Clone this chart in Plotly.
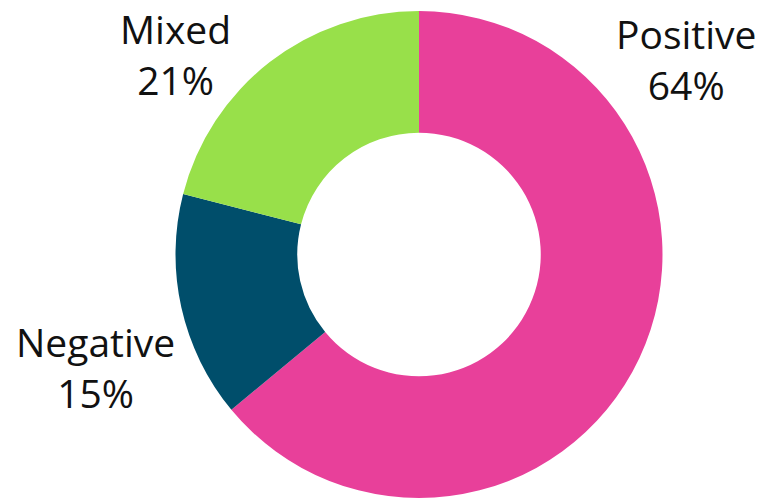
import plotly.graph_objects as go

labels = ["Positive", "Negative", "Mixed"]
values = [64, 15, 21]
colors = ["#E8409A", "#004E6B", "#98E04A"]

# label anchor positions (pixels in a 758x498 canvas)
label_px = {"Positive": (686, 59), "Negative": (95, 367), "Mixed": (175, 54)}

W, H = 758, 498
fig = go.Figure(go.Pie(
    labels=labels, values=values, hole=0.5, sort=False, direction="clockwise",
    rotation=0, marker=dict(colors=colors, line=dict(width=0)),
    textinfo="none", hoverinfo="label+percent",
    domain=dict(x=[175.5 / W, 662.5 / W], y=[0, 1 - 11 / H]),
    showlegend=False,
))

total = sum(values)
for lab, val in zip(labels, values):
    px, py = label_px[lab]
    fig.add_annotation(
        x=px / W, y=1 - py / H, xref="paper", yref="paper",
        text=f"{lab}<br>{round(100 * val / total)}%",
        showarrow=False, xanchor="center", yanchor="middle",
        font=dict(family="Open Sans", size=39, color="#111111"),
    )

fig.update_layout(
    width=W, height=H, margin=dict(l=0, r=0, t=0, b=0),
    paper_bgcolor="white", plot_bgcolor="white",
)
fig.write_html("out.html")
